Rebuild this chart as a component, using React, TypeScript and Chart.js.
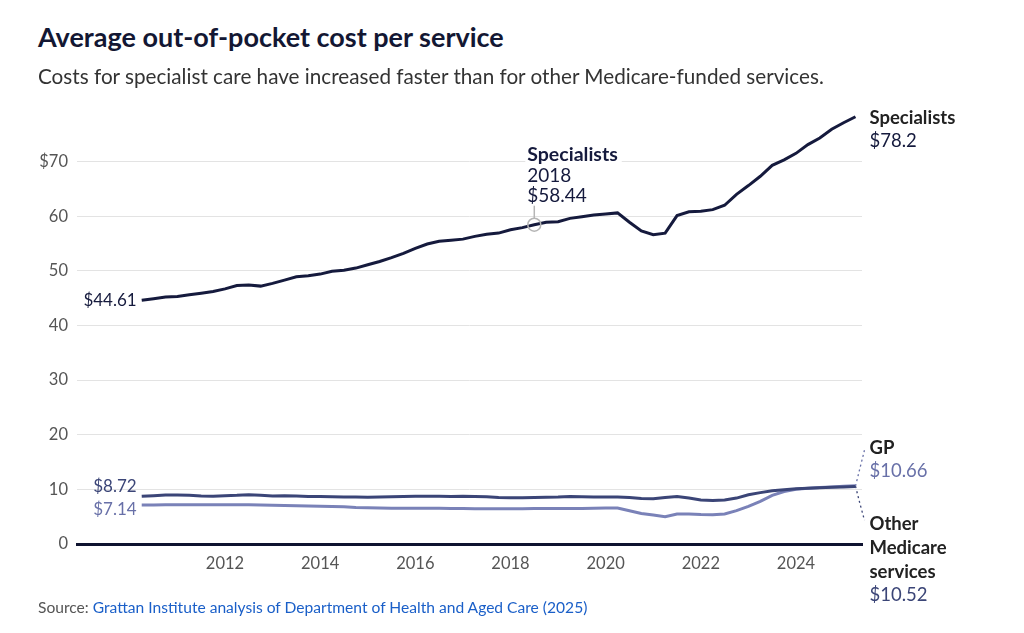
import React, { useEffect, useRef } from "react";
import { Chart, registerables } from "chart.js";

Chart.register(...registerables);

// ---- Data ----
const quarters = [
  "2010 Q2", "2010 Q3", "2010 Q4",
  "2011 Q1", "2011 Q2", "2011 Q3", "2011 Q4",
  "2012 Q1", "2012 Q2", "2012 Q3", "2012 Q4",
  "2013 Q1", "2013 Q2", "2013 Q3", "2013 Q4",
  "2014 Q1", "2014 Q2", "2014 Q3", "2014 Q4",
  "2015 Q1", "2015 Q2", "2015 Q3", "2015 Q4",
  "2016 Q1", "2016 Q2", "2016 Q3", "2016 Q4",
  "2017 Q1", "2017 Q2", "2017 Q3", "2017 Q4",
  "2018 Q1", "2018 Q2", "2018 Q3", "2018 Q4",
  "2019 Q1", "2019 Q2", "2019 Q3", "2019 Q4",
  "2020 Q1", "2020 Q2", "2020 Q3", "2020 Q4",
  "2021 Q1", "2021 Q2", "2021 Q3", "2021 Q4",
  "2022 Q1", "2022 Q2", "2022 Q3", "2022 Q4",
  "2023 Q1", "2023 Q2", "2023 Q3", "2023 Q4",
  "2024 Q1", "2024 Q2", "2024 Q3", "2024 Q4",
  "2025 Q1", "2025 Q2",
];

const specialists = [
  44.61, 44.9, 45.2, 45.3, 45.6, 45.9, 46.2, 46.7, 47.3, 47.4,
  47.2, 47.7, 48.3, 48.9, 49.1, 49.4, 49.9, 50.1, 50.5, 51.1,
  51.7, 52.4, 53.2, 54.1, 54.9, 55.4, 55.6, 55.8, 56.3, 56.7,
  56.9, 57.5, 57.9, 58.44, 58.9, 59.0, 59.6, 59.9, 60.2, 60.4,
  60.6, 58.9, 57.3, 56.6, 56.9, 60.1, 60.8, 60.9, 61.2, 62.0,
  64.0, 65.6, 67.3, 69.3, 70.3, 71.5, 73.1, 74.3, 75.9, 77.1,
  78.2,
];

const otherMedicare = [
  8.72, 8.85, 8.95, 8.95, 8.9, 8.8, 8.75, 8.85, 8.9, 9.0,
  8.9, 8.8, 8.85, 8.8, 8.7, 8.7, 8.65, 8.6, 8.6, 8.55,
  8.6, 8.65, 8.7, 8.75, 8.75, 8.75, 8.7, 8.75, 8.7, 8.65,
  8.5, 8.45, 8.45, 8.5, 8.55, 8.6, 8.7, 8.65, 8.6, 8.6,
  8.6, 8.5, 8.35, 8.3, 8.5, 8.7, 8.4, 8.05, 7.95, 8.05,
  8.4, 9.0, 9.4, 9.75, 9.95, 10.1, 10.2, 10.3, 10.4, 10.45,
  10.52,
];

const gp = [
  7.14, 7.15, 7.18, 7.2, 7.2, 7.2, 7.2, 7.2, 7.2, 7.2,
  7.15, 7.1, 7.05, 7.0, 6.95, 6.9, 6.85, 6.8, 6.7, 6.65,
  6.6, 6.55, 6.55, 6.55, 6.55, 6.55, 6.5, 6.5, 6.45, 6.45,
  6.45, 6.45, 6.45, 6.5, 6.5, 6.5, 6.5, 6.5, 6.55, 6.6,
  6.6, 6.1, 5.6, 5.3, 5.0, 5.5, 5.5, 5.4, 5.35, 5.5,
  6.1, 6.9, 7.8, 8.9, 9.6, 10.0, 10.2, 10.35, 10.45, 10.55,
  10.66,
];

const yearTicks = [2012, 2014, 2016, 2018, 2020, 2022, 2024];
const annotationIndex = 33; // Specialists, 2018, $58.44

// ---- Styles ----
const FONT = "Lato, 'Noto Sans', sans-serif";
const NAVY = "#151a3d";
const OTHER = "#3b4577";
const GP = "#7a82b8";
const GP_TEXT = "#6870a8";
const DARK_TEXT = "#222222";

const toYear = (q: string) => {
  const [yr, qq] = q.split(" Q");
  return Number(yr) + (Number(qq) - 1) / 4;
};
const xs = quarters.map(toYear);
const pts = (vals: number[]) => vals.map((v, i) => ({ x: xs[i], y: v }));

const labelsPlugin = {
  id: "customLabels",
  afterDatasetsDraw(chart: any) {
    const { ctx, scales } = chart;
    const x = scales.x;
    const y = scales.y;
    const last = xs.length - 1;
    ctx.save();

    const text = (
      s: string,
      px: number,
      py: number,
      color: string,
      size: number,
      bold: boolean,
      align: CanvasTextAlign = "left"
    ) => {
      ctx.font = `${bold ? "bold " : ""}${size}px ${FONT}`;
      ctx.fillStyle = color;
      ctx.textAlign = align;
      ctx.textBaseline = "middle";
      ctx.fillText(s, px, py);
    };

    // start labels
    const sx = x.getPixelForValue(xs[0]) - 5;
    text("$" + specialists[0].toFixed(2), sx, y.getPixelForValue(specialists[0]), NAVY, 17, false, "right");
    text("$" + otherMedicare[0].toFixed(2), sx, y.getPixelForValue(otherMedicare[0]) - 10, OTHER, 17, false, "right");
    text("$" + gp[0].toFixed(2), sx, y.getPixelForValue(gp[0]) + 5, GP_TEXT, 17, false, "right");

    // end labels
    const ex = x.getPixelForValue(xs[last]);
    const lx = ex + 14;
    const sy = y.getPixelForValue(specialists[last]);
    text("Specialists", lx, sy + 1, DARK_TEXT, 18.5, true);
    text("$" + String(specialists[last]), lx, sy + 24, NAVY, 18.5, false);

    const ey = (y.getPixelForValue(gp[last]) + y.getPixelForValue(otherMedicare[last])) / 2;
    text("GP", lx, ey - 38, DARK_TEXT, 18.5, true);
    text("$" + gp[last].toFixed(2), lx, ey - 15, GP_TEXT, 18.5, false);
    text("Other", lx, ey + 38, DARK_TEXT, 18.5, true);
    text("Medicare", lx, ey + 62, DARK_TEXT, 18.5, true);
    text("services", lx, ey + 86, DARK_TEXT, 18.5, true);
    text("$" + otherMedicare[last].toFixed(2), lx, ey + 109, OTHER, 18.5, false);

    // dotted connectors
    ctx.setLineDash([2, 3]);
    ctx.lineWidth = 1.3;
    ctx.strokeStyle = GP_TEXT;
    ctx.beginPath();
    ctx.moveTo(ex, ey);
    ctx.quadraticCurveTo(ex + 5, ey - 20, ex + 9, ey - 36);
    ctx.stroke();
    ctx.strokeStyle = OTHER;
    ctx.beginPath();
    ctx.moveTo(ex, ey);
    ctx.quadraticCurveTo(ex + 5, ey + 20, ex + 9, ey + 34);
    ctx.stroke();
    ctx.setLineDash([]);

    // annotation
    const ax = x.getPixelForValue(xs[annotationIndex]);
    const ay = y.getPixelForValue(specialists[annotationIndex]);
    ctx.strokeStyle = "#b5b5b5";
    ctx.lineWidth = 1.5;
    ctx.beginPath();
    ctx.arc(ax, ay, 6.5, 0, Math.PI * 2);
    ctx.stroke();
    ctx.beginPath();
    ctx.moveTo(ax, ay - 6.5);
    ctx.lineTo(ax, ay - 19);
    ctx.stroke();

    ctx.font = `bold 19.5px ${FONT}`;
    const w = ctx.measureText("Specialists").width;
    ctx.fillStyle = "#ffffff";
    ctx.fillRect(ax - 9, ay - 83, w + 6, 26);
    text("Specialists", ax - 7, ay - 70, NAVY, 19.5, true);
    text(quarters[annotationIndex].split(" ")[0], ax - 7, ay - 49, NAVY, 19, false);
    text("$" + specialists[annotationIndex].toFixed(2), ax - 7, ay - 29, NAVY, 19, false);

    ctx.restore();
  },
};

export default function App() {
  const ref = useRef<HTMLCanvasElement | null>(null);

  useEffect(() => {
    if (!ref.current) return;
    Chart.defaults.font.family = FONT;
    const chart = new Chart(ref.current, {
      type: "line",
      data: {
        datasets: [
          {
            label: "Specialists",
            data: pts(specialists),
            borderColor: NAVY,
            borderWidth: 3,
            pointRadius: 0,
            tension: 0,
          },
          {
            label: "Other Medicare services",
            data: pts(otherMedicare),
            borderColor: OTHER,
            borderWidth: 3,
            pointRadius: 0,
            tension: 0,
          },
          {
            label: "GP",
            data: pts(gp),
            borderColor: GP,
            borderWidth: 3,
            pointRadius: 0,
            tension: 0,
          },
        ],
      },
      options: {
        animation: false,
        responsive: false,
        maintainAspectRatio: false,
        devicePixelRatio: 1,
        layout: { padding: { top: 6, right: 162, left: 0, bottom: 0 } },
        plugins: {
          legend: { display: false },
          tooltip: { enabled: false },
        },
        scales: {
          x: {
            type: "linear",
            min: 2008.89,
            max: 2025.387,
            afterBuildTicks: (scale: any) => {
              scale.ticks = yearTicks.map((v) => ({ value: v }));
            },
            afterFit: (scale: any) => {
              scale.height = 89;
            },
            grid: { display: false, drawTicks: false },
            border: { display: true, color: "#0f1330", width: 3 },
            ticks: {
              color: "#555555",
              font: { size: 16.5, family: FONT },
              padding: 10,
              maxRotation: 0,
              autoSkip: false,
              callback: (v: any) => String(v),
            },
          },
          y: {
            min: 0,
            max: 80,
            afterFit: (scale: any) => {
              scale.width = 77;
            },
            grid: { color: "#e3e3e3", lineWidth: 1, drawTicks: false },
            border: { display: false },
            ticks: {
              stepSize: 10,
              color: "#555555",
              font: { size: 16.5, family: FONT },
              padding: 9,
              callback: (v: any) => (v === 80 ? null : v === 70 ? "$70" : String(v)),
            },
          },
        },
      },
      plugins: [labelsPlugin],
    });
    return () => chart.destroy();
  }, []);

  return (
    <div
      style={{
        position: "fixed",
        left: 0,
        top: 0,
        width: 1024,
        height: 633,
        background: "#ffffff",
        fontFamily: FONT,
        overflow: "hidden",
      }}
    >
      <canvas
        ref={ref}
        width={1024}
        height={545}
        style={{ position: "absolute", left: 0, top: 88, width: 1024, height: 545 }}
      />
      <div
        style={{
          position: "absolute",
          left: 38,
          top: 21,
          fontSize: 27,
          lineHeight: "32px",
          fontWeight: 700,
          color: "#131733",
          whiteSpace: "nowrap",
        }}
      >
        Average out-of-pocket cost per service
      </div>
      <div
        style={{
          position: "absolute",
          left: 38,
          top: 63,
          fontSize: 20.7,
          lineHeight: "26px",
          color: "#333333",
          whiteSpace: "nowrap",
        }}
      >
        Costs for specialist care have increased faster than for other Medicare-funded services.
      </div>
      <div
        style={{
          position: "absolute",
          left: 38,
          top: 597,
          fontSize: 15.6,
          lineHeight: "20px",
          color: "#555555",
          whiteSpace: "nowrap",
        }}
      >
        Source: <span style={{ color: "#1a5fc8" }}>Grattan Institute analysis of Department of Health and Aged Care (2025)</span>
      </div>
    </div>
  );
}
